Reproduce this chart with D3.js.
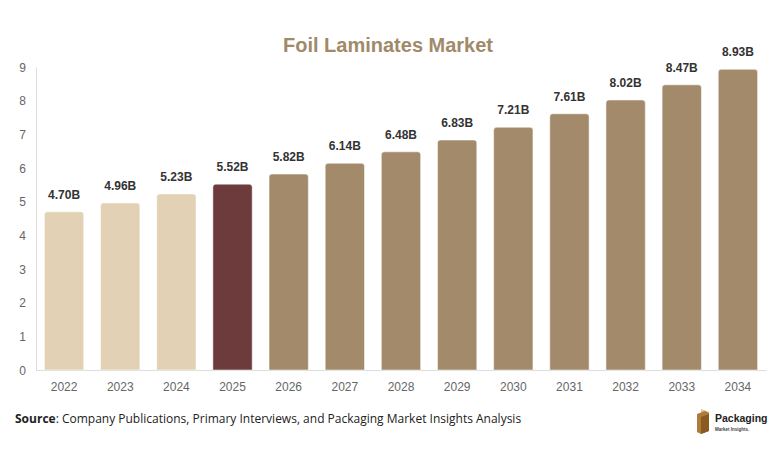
<!DOCTYPE html>
<html>
<head>
  <meta content="text/html;charset=utf-8" http-equiv="Content-Type">
  <title>Foil Laminates Market</title>
  <style type="text/css">
    body { margin: 0; background: #fff; }
    #chart text { font-family: "Liberation Sans", Arial, sans-serif; }
    #chart .tick text { fill: #666; font-size: 12px; }
    #chart .value { fill: #333; font-size: 12px; font-weight: bold; text-anchor: middle; }
    #chart .title { fill: #a08a6a; font-size: 20px; font-weight: bold; text-anchor: middle; }
    #chart .source { font-family: "Open Sans", sans-serif; font-size: 12px; fill: #222; }
  </style>
  <script src="https://cdnjs.cloudflare.com/ajax/libs/d3/7.6.1/d3.min.js"></script>
  <script>

    var years  = ['2022', '2023', '2024', '2025', '2026', '2027', '2028', '2029', '2030', '2031', '2032', '2033', '2034'];
    var values = [4.70, 4.96, 5.23, 5.52, 5.82, 6.14, 6.48, 6.83, 7.21, 7.61, 8.02, 8.47, 8.93];
    var y_ticks = [0, 1, 2, 3, 4, 5, 6, 7, 8, 9];

    function bar_color(year) {
      if (+year < 2025) return '#e2d1b4';
      if (+year === 2025) return '#6e3b3d';
      return '#a28a6b';
    }

    function main() {
      var width = 782, height = 457;
      var left = 36, right = 766, top = 67, bottom = 370;

      var svg = d3.select('#chart').attr('width', width).attr('height', height);

      var x = d3.scaleBand().domain(years).range([left, right]).paddingInner(0.3).paddingOuter(0.15);
      var y = d3.scaleLinear().domain([0, 9]).range([bottom, top]);

      svg.append('text').attr('class', 'title').attr('x', 388).attr('y', 52).text('Foil Laminates Market');

      // axes
      var ya = svg.append('g').attr('transform', 'translate(' + left + ',0)')
        .call(d3.axisLeft(y).tickValues(y_ticks).tickSize(0).tickPadding(10));
      ya.select('.domain').attr('stroke', '#ddd');
      ya.selectAll('.tick text').attr('dy', '0.35em');

      var xa = svg.append('g').attr('transform', 'translate(0,' + bottom + ')')
        .call(d3.axisBottom(x).tickSize(0).tickPadding(12));
      xa.select('.domain').attr('stroke', '#ddd');

      var bars = svg.selectAll('g.bar').data(years).enter().append('g').attr('class', 'bar');

      bars.append('path')
        .attr('d', function(d, i) {
          var x0 = x(d), w = x.bandwidth(), y0 = y(values[i]), r = 3;
          return 'M' + x0 + ',' + bottom + 'V' + (y0 + r) + 'Q' + x0 + ',' + y0 + ' ' + (x0 + r) + ',' + y0 +
                 'H' + (x0 + w - r) + 'Q' + (x0 + w) + ',' + y0 + ' ' + (x0 + w) + ',' + (y0 + r) + 'V' + bottom + 'Z';
        })
        .attr('fill', bar_color)
        .attr('stroke', 'rgba(255,255,255,0.5)')
        .attr('stroke-width', 1);

      bars.append('text').attr('class', 'value')
        .attr('x', function(d) { return x(d) + x.bandwidth() / 2; })
        .attr('y', function(d, i) { return y(values[i]) - 13; })
        .text(function(d, i) { return values[i].toFixed(2) + 'B'; });

      // source line
      var src = svg.append('text').attr('class', 'source').attr('x', 15).attr('y', 423);
      src.append('tspan').attr('font-weight', 'bold').text('Source');
      src.append('tspan').text(': Company Publications, Primary Interviews, and Packaging Market Insights Analysis');

      // logo
      var logo = svg.append('g').attr('transform', 'translate(697,409)');
      logo.append('path').attr('d', 'M4,0 L12,3 L12,22 L4,19 Z').attr('fill', '#c89a5a').attr('opacity', 0.6);
      logo.append('path').attr('d', 'M0,5 L8,2 L12,4 L12,22 L4,25 L0,23 Z').attr('fill', '#b07a38');
      logo.append('path').attr('d', 'M4,8 L12,5 L12,22 L4,25 Z').attr('fill', '#8a5a22');
      logo.append('text').attr('x', 18).attr('y', 13).attr('font-size', 10.5).attr('font-weight', 'bold')
        .attr('fill', '#222').text('Packaging');
      logo.append('text').attr('x', 18).attr('y', 22).attr('font-size', 4.5).attr('font-weight', 'bold')
        .attr('fill', '#444').text('Market Insights.');
    }

  </script>
</head>
<body onload='main()'>
  <svg id="chart"></svg>
</body>
</html>
